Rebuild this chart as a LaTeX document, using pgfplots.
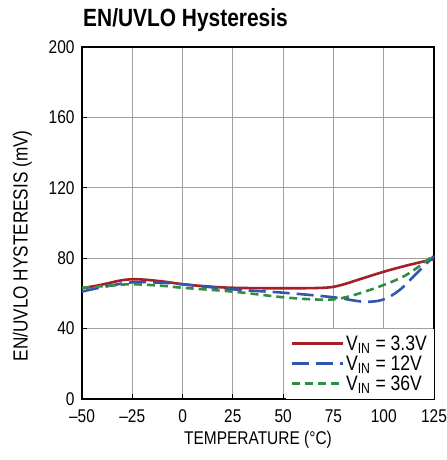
\documentclass[border=0pt]{standalone}
\usepackage{fontspec}
\setmainfont{Liberation Sans}[FakeStretch=0.84]
\usepackage{pgfplots}
\pgfplotsset{compat=1.18}
\definecolor{cred}{RGB}{165,32,38}
\definecolor{cblue}{RGB}{50,85,175}
\definecolor{cgreen}{RGB}{50,140,65}
\begin{document}
\begin{tikzpicture}
\begin{axis}[
  at={(0,0)},anchor=south west,
  scale only axis, width=352bp, height=352bp,
  xmin=-50, xmax=125, ymin=0, ymax=200,
  xtick={-50,-25,0,25,50,75,100,125},
  xticklabels={–50,–25,0,25,50,75,100,125},
  ytick={0,40,80,120,160,200},
  yticklabel style={/pgf/number format/assume math mode=true, xshift=-4bp},
  xticklabel style={yshift=-7bp},
  tick label style={font=\fontsize{18.5}{18.5}\selectfont},
  label style={font=\fontsize{18.5}{18.5}\selectfont},
  xlabel={TEMPERATURE (°C)},
  ylabel={EN/UVLO HYSTERESIS (mV)},
  xlabel style={yshift=-2bp},
  ylabel style={at={(ticklabel cs:0.435)}, yshift=10bp, font=\fontsize{20.5}{20.5}\selectfont},
  grid=major, major grid style={gray!75, line width=0.8bp},
  axis line style={line width=1.2bp},
  tick style={black, line width=0.8bp}, major tick length=5bp,
  tick align=inside, xtick pos=bottom, ytick pos=left,
  legend style={at={(rel axis cs:1,0)}, anchor=south east, draw=none, fill=white,
    font=\fontsize{21}{21}\selectfont, row sep=0bp, inner xsep=5bp, inner ysep=5bp,
    /tikz/every even column/.append style={column sep=5bp}},
  legend cell align=left,
  legend image code/.code={\draw[#1] (0bp,0bp) -- (51bp,0bp);},
  clip=false,
]
\addplot[cred, line width=2.6bp, smooth, tension=0.6] coordinates {
(-50,62.9) (-40,65) (-30,67.5) (-22,68) (-10,66.8) (0,65.2) (12,64) (25,63.2)
(50,62.9) (70,63.2) (78,64.5) (88,68) (100,72.3) (112,76) (125,79.5)};
\addlegendentry{V\textsubscript{IN} = 3.3V}
\addplot[cblue, line width=2.6bp, dash pattern=on 17bp off 7bp, smooth, tension=0.6] coordinates {
(-50,61) (-40,63.5) (-25,66.3) (-10,66) (0,65.2) (25,62.3) (50,60.4) (75,57.8)
(85,56) (92,55.2) (100,56.6) (108,62) (116,71) (125,81.2)};
\addlegendentry{V\textsubscript{IN} = 12V}
\addplot[cgreen, line width=2.6bp, dash pattern=on 8bp off 5bp, smooth, tension=0.6] coordinates {
(-50,63.2) (-35,64.5) (-25,65.2) (-10,64.3) (0,63.2) (25,61) (50,57.8) (65,56.6)
(75,56.6) (85,59) (100,64.8) (112,71) (125,81.8)};
\addlegendentry{V\textsubscript{IN} = 36V}
\end{axis}
\node[anchor=base west, font=\bfseries\fontsize{25}{25}\selectfont, inner sep=0pt] at (1bp,372bp) {EN/UVLO Hysteresis};
\pgfresetboundingbox
\path[use as bounding box] (-82bp,-61bp) rectangle (365bp,399bp);
\end{tikzpicture}
\end{document}
